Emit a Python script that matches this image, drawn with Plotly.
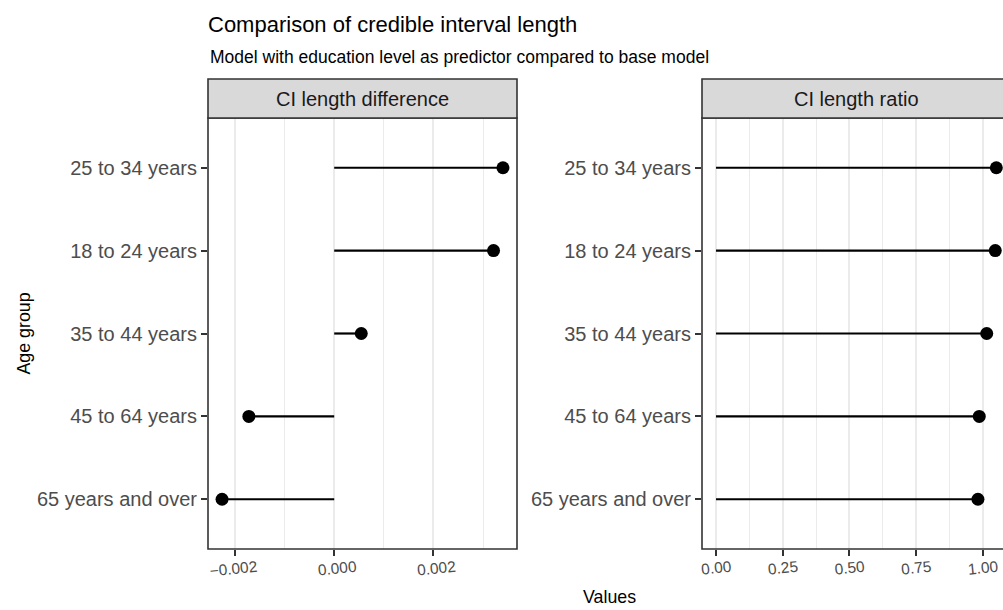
import plotly.graph_objects as go

# ---- data ----
age_groups = ["65 years and over", "45 to 64 years", "35 to 44 years",
              "18 to 24 years", "25 to 34 years"]
ci_diff = [-0.00226, -0.00172, 0.000545, 0.00321, 0.00340]
ci_ratio = [0.982, 0.987, 1.015, 1.047, 1.051]
panel_titles = ["CI length difference", "CI length ratio"]
diff_ticks = [-0.002, 0.0, 0.002]
diff_ticklabels = ["\u22120.002", "0.000", "0.002"]
diff_minor = [-0.001, 0.001, 0.003]
ratio_ticks = [0.0, 0.25, 0.50, 0.75, 1.00]
ratio_ticklabels = ["0.00", "0.25", "0.50", "0.75", "1.00"]
ratio_minor = [0.125, 0.375, 0.625, 0.875]

FONT = "Liberation Sans, Arial, Helvetica, sans-serif"
DARK = "#333333"
TICKTXT = "#4D4D4D"
GRID = "#EBEBEB"

W, H = 1003, 610
ML, MR = 208, 0
MT = 118
MB = H - 549
PW = W - ML - MR
PH = H - MT - MB


def seg_xy(vals, cats):
    xs, ys = [], []
    for v, c in zip(vals, cats):
        xs += [0, v, None]
        ys += [c, c, None]
    return xs, ys


fig = go.Figure()
for vals, xa, ya in [(ci_diff, "x", "y"), (ci_ratio, "x2", "y2")]:
    sx, sy = seg_xy(vals, age_groups)
    fig.add_trace(go.Scatter(x=sx, y=sy, mode="lines", xaxis=xa, yaxis=ya,
                             line=dict(color="black", width=2.2),
                             hoverinfo="skip", showlegend=False))
    fig.add_trace(go.Scatter(x=vals, y=age_groups, mode="markers", xaxis=xa, yaxis=ya,
                             marker=dict(color="black", size=13),
                             cliponaxis=False, showlegend=False))

dom1 = [0, (517 - 208) / PW]
dom2 = [(702 - 208) / PW, 1]

common_x = dict(ticks="outside", ticklen=6, tickwidth=1.6, tickcolor=DARK,
                tickangle=-6, tickfont=dict(family=FONT, size=15.5, color=TICKTXT),
                ticklabelstandoff=-3,
                showgrid=True, gridcolor=GRID, gridwidth=1.6, zeroline=False,
                showline=False, automargin=False)
common_y = dict(type="category", categoryorder="array", categoryarray=age_groups,
                range=[-0.6, 4.6], ticks="outside", ticklen=6, tickwidth=1.6,
                tickcolor=DARK, tickfont=dict(family=FONT, size=20, color=TICKTXT),
                showgrid=False, zeroline=False, showline=False, automargin=False)

fig.update_layout(
    width=W, height=H,
    margin=dict(l=ML, r=MR, t=MT, b=MB),
    paper_bgcolor="white", plot_bgcolor="white",
    showlegend=False,
    font=dict(family=FONT, color="black"),
    xaxis=dict(domain=dom1, anchor="y", range=[-0.002543, 0.003683],
               tickmode="array", tickvals=diff_ticks, ticktext=diff_ticklabels,
               ticklabelshift=22,
               minor=dict(tickmode="array", tickvals=diff_minor, showgrid=True,
                          gridcolor=GRID, gridwidth=0.8, ticks=""),
               **common_x),
    xaxis2=dict(domain=dom2, anchor="y2", range=[-0.0526, -0.0526 + 301 / 266.7],
                tickmode="array", tickvals=ratio_ticks, ticktext=ratio_ticklabels,
                ticklabelshift=15,
                minor=dict(tickmode="array", tickvals=ratio_minor, showgrid=True,
                           gridcolor=GRID, gridwidth=0.8, ticks=""),
                **common_x),
    yaxis=dict(domain=[0, 1], anchor="x", **common_y),
    yaxis2=dict(domain=[0, 1], anchor="x2", **common_y),
    title=dict(text="Comparison of credible interval length",
               font=dict(family=FONT, size=22, color="black"),
               x=ML / W, xref="container", xanchor="left",
               y=1 - 24 / H, yref="container", yanchor="middle"),
)

strip_h = 39 / PH
shapes = []
for xr, yr, x1 in [("x domain", "y domain", 1), ("x2 domain", "y2 domain", 1.06)]:
    shapes.append(dict(type="rect", xref=xr, yref=yr, x0=0, x1=x1, y0=0, y1=1,
                       line=dict(color=DARK, width=1.6), fillcolor="rgba(0,0,0,0)",
                       layer="above"))
    shapes.append(dict(type="rect", xref=xr, yref=yr, x0=0, x1=x1, y0=1, y1=1 + strip_h,
                       line=dict(color=DARK, width=1.6), fillcolor="#D9D9D9",
                       layer="above"))
fig.update_layout(shapes=shapes)

annotations = [
    dict(text=panel_titles[0], xref="x domain", yref="y domain", x=0.5,
         y=1 + strip_h / 2, xanchor="center", yanchor="middle", showarrow=False,
         font=dict(family=FONT, size=20, color="#1A1A1A")),
    dict(text=panel_titles[1], xref="x2 domain", yref="y2 domain",
         x=(856.8 - 702) / 301, y=1 + strip_h / 2, xanchor="center",
         yanchor="middle", showarrow=False,
         font=dict(family=FONT, size=20, color="#1A1A1A")),
    dict(text="Model with education level as predictor compared to base model",
         xref="paper", yref="paper", x=0, y=(549 - 56.5) / PH,
         xanchor="left", yanchor="middle", showarrow=False,
         font=dict(family=FONT, size=17.5, color="black")),
    dict(text="Age group", xref="paper", yref="paper", x=(23 - 208) / PW, y=0.5,
         xanchor="center", yanchor="middle", textangle=-90, showarrow=False,
         font=dict(family=FONT, size=17.8, color="black")),
    dict(text="Values", xref="paper", yref="paper", x=(609.7 - 208) / PW,
         y=(549 - 597) / PH, xanchor="center", yanchor="middle",
         showarrow=False, font=dict(family=FONT, size=17.8, color="black")),
]
fig.update_layout(annotations=annotations)

fig.write_html(
    "out.html",
    config={"displayModeBar": False},
    post_script="document.body.style.margin='0';"
                "document.body.style.overflow='hidden';"
                "document.documentElement.style.overflow='hidden';",
)
